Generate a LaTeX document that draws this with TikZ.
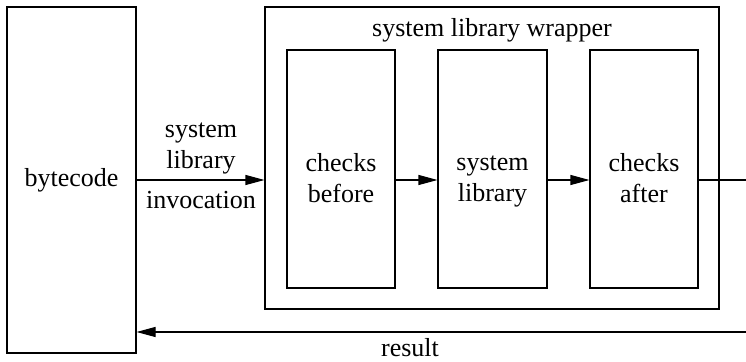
\documentclass[tikz,border=0pt]{standalone}
\usepackage{fontspec}
\setmainfont{Liberation Serif}
\usetikzlibrary{arrows.meta}
\tikzset{>={Triangle[length=9.5pt,width=5pt]}}

\begin{document}
\begin{tikzpicture}[x=0.5pt, y=-0.5pt, line width=0.55pt,
		font=\fontsize{13}{15.5}\selectfont,
		block/.style={rectangle, draw=black, line width=0.55pt, inner sep=0pt},
		step box/.style={block, minimum width=54pt, minimum height=119pt},
		txt/.style={align=center, inner sep=0pt}]
		\useasboundingbox (0,0) rectangle (746,362);
		\node[block, minimum width=64.5pt, minimum height=173pt] (1) at (71.5,180) {bytecode};
		\node[block, minimum width=227pt, minimum height=151pt] (2) at (492,158) {};
		\node[step box] (3) at (341,169) {};
		\node[step box, minimum width=54.5pt] (4) at (492.5,169) {};
		\node[step box] (5) at (644,169) {};
		\node[txt] (6) at (492,30) {system library wrapper};
		\node[txt] (7) at (341,178) {checks\\before};
		\node[txt] (8) at (492.5,181) {system\\library};
		\node[txt] (9) at (644,178) {checks\\after};
		\node[txt] (10) at (201,148) {system\\library};
		\node[txt] (11) at (201,200) {invocation};
		\node[txt] (12) at (410,348) {result};
		\coordinate (o1) at (746,180);
		\coordinate (o2) at (746,332);
		
		\path (1.east) edge[->] (1.east -| 2.west);
		\path (3.east |- 1.east) edge[->] (4.west |- 1.east);
		\path (4.east |- 1.east) edge[->] (5.west |- 1.east);
		\path (5.east |- o1) edge (o1);
		\path (o2) edge[->] (1.east |- o2);
		
	\end{tikzpicture}
\end{document}
